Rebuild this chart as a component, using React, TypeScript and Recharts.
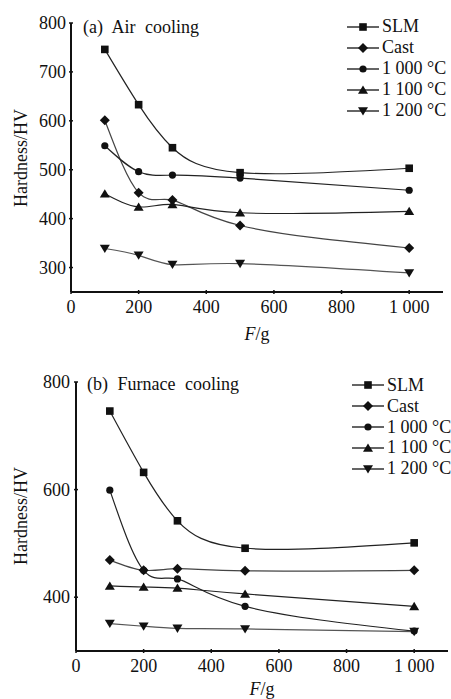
import React from "react";
import { LineChart, Line, XAxis, YAxis, Legend } from "recharts";

// applied load (g) on the x axis
const forces = [100, 200, 300, 500, 1000];
const xTicks = [0, 200, 400, 600, 800, 1000];
const airTicks = [300, 400, 500, 600, 700, 800];
const furnaceTicks = [400, 600, 800];

const seriesNames = ["SLM", "Cast", "1 000 °C", "1 100 °C", "1 200 °C"];

// (a) air cooling
const airSLM = [746, 633, 545, 494, 503];
const airCast = [601, 453, 438, 386, 340];
const air1000 = [549, 496, 489, 483, 458];
const air1100 = [451, 424, 429, 412, 415];
const air1200 = [339, 325, 306, 308, 289];

// (b) furnace cooling
const furSLM = [746, 632, 542, 491, 501];
const furCast = [469, 450, 453, 449, 450];
const fur1000 = [599, 450, 434, 383, 337];
const fur1100 = [421, 419, 417, 406, 383];
const fur1200 = [351, 346, 342, 341, 336];

const keys = ["slm", "cast", "t1000", "t1100", "t1200"];
const markers = ["square", "diamond", "circle", "up", "down"];
const lineColors = ["#222", "#444", "#222", "#222", "#555"];

const buildRows = (cols: number[][]) =>
  forces.map((f, i) => {
    const row: any = { f };
    keys.forEach((k, j) => (row[k] = cols[j][i]));
    return row;
  });

const airData = buildRows([airSLM, airCast, air1000, air1100, air1200]);
const furnaceData = buildRows([furSLM, furCast, fur1000, fur1100, fur1200]);

const FONT = "Liberation Serif";
const INK = "#111";

const fmt = (v: number) => (v >= 1000 ? "1 000" : String(v));

const Marker = ({ kind, cx, cy }: { kind: string; cx: number; cy: number }) => {
  if (kind === "square")
    return <rect x={cx - 3.8} y={cy - 3.8} width={7.6} height={7.6} fill={INK} />;
  if (kind === "diamond")
    return (
      <polygon
        points={`${cx},${cy - 5} ${cx + 5},${cy} ${cx},${cy + 5} ${cx - 5},${cy}`}
        fill={INK}
      />
    );
  if (kind === "circle") return <circle cx={cx} cy={cy} r={3.6} fill={INK} />;
  if (kind === "up")
    return (
      <polygon
        points={`${cx},${cy - 4.5} ${cx + 5},${cy + 3.8} ${cx - 5},${cy + 3.8}`}
        fill={INK}
      />
    );
  return (
    <polygon
      points={`${cx},${cy + 4.5} ${cx + 5},${cy - 3.8} ${cx - 5},${cy - 3.8}`}
      fill={INK}
    />
  );
};

const XTick = ({ x, y, payload }: any) => (
  <g>
    <line x1={x} x2={x} y1={y} y2={y - 4} stroke={INK} strokeWidth={1.5} />
    <text
      x={x}
      y={y + 13}
      textAnchor="middle"
      dominantBaseline="central"
      style={{ fontFamily: FONT, fontSize: 18 }}
      fill={INK}
    >
      {fmt(payload.value)}
    </text>
  </g>
);

const YTick = ({ x, y, payload, gap }: any) => (
  <g>
    <line x1={x} x2={x + 4} y1={y} y2={y} stroke={INK} strokeWidth={1.5} />
    <text
      x={x - gap}
      y={y}
      textAnchor="end"
      dominantBaseline="central"
      style={{ fontFamily: FONT, fontSize: 18 }}
      fill={INK}
    >
      {fmt(payload.value)}
    </text>
  </g>
);

const LegendBox = ({ rowH }: { rowH: number }) => (
  <div style={{ fontFamily: FONT, fontSize: 18, color: INK }}>
    {seriesNames.map((name, i) => (
      <div key={name} style={{ display: "flex", alignItems: "center", height: rowH }}>
        <svg width={32} height={12}>
          <line x1={0} x2={32} y1={6} y2={6} stroke={INK} strokeWidth={1.3} />
          <Marker kind={markers[i]} cx={16} cy={6} />
        </svg>
        <span style={{ marginLeft: 3, whiteSpace: "nowrap" }}>{name}</span>
      </div>
    ))}
  </div>
);

const Panel = ({
  data,
  ticks,
  domain,
  width,
  height,
  margin,
  yWidth,
  xHeight,
  tickGap,
  legendPos,
  rowH,
}: any) => (
  <LineChart width={width} height={height} data={data} margin={margin}>
    <XAxis
      dataKey="f"
      type="number"
      domain={[0, 1100]}
      ticks={xTicks}
      height={xHeight}
      tickSize={0}
      tickLine={false}
      axisLine={{ stroke: INK, strokeWidth: 2 }}
      tick={<XTick />}
    />
    <YAxis
      type="number"
      domain={domain}
      ticks={ticks}
      width={yWidth}
      tickSize={0}
      tickLine={false}
      axisLine={{ stroke: INK, strokeWidth: 2 }}
      tick={<YTick gap={tickGap} />}
    />
    <Legend
      layout="vertical"
      align="center"
      verticalAlign="middle"
      wrapperStyle={{ left: legendPos[0], top: legendPos[1], width: 110 }}
      content={() => <LegendBox rowH={rowH} />}
    />
    {keys.map((k, i) => (
      <Line
        key={k}
        dataKey={k}
        name={seriesNames[i]}
        type="natural"
        stroke={lineColors[i]}
        strokeWidth={1.2}
        isAnimationActive={false}
        dot={(p: any) => <Marker key={`${k}-${p.index}`} kind={markers[i]} cx={p.cx} cy={p.cy} />}
        activeDot={false}
      />
    ))}
  </LineChart>
);

const textStyle: React.CSSProperties = {
  position: "absolute",
  fontFamily: FONT,
  fontSize: 18,
  color: INK,
  whiteSpace: "nowrap",
  lineHeight: 1,
};

const App: React.FC = () => {
  return (
    <div
      style={{
        position: "absolute",
        left: 0,
        top: 0,
        width: 451,
        height: 699,
        background: "#fff",
        overflow: "hidden",
      }}
    >
      <div style={{ position: "absolute", left: 0, top: 0 }}>
        <Panel
          data={airData}
          ticks={airTicks}
          domain={[250, 800]}
          width={451}
          height={320}
          margin={{ top: 23, right: 8, bottom: 0, left: 0 }}
          yWidth={71}
          xHeight={28}
          tickGap={3}
          legendPos={[347, 16]}
          rowH={21}
        />
      </div>
      <div style={{ position: "absolute", left: 0, top: 340 }}>
        <Panel
          data={furnaceData}
          ticks={furnaceTicks}
          domain={[300, 800]}
          width={451}
          height={359}
          margin={{ top: 42, right: 3, bottom: 0, left: 0 }}
          yWidth={76}
          xHeight={48}
          tickGap={4}
          legendPos={[352, 35]}
          rowH={20.8}
        />
      </div>

      <div style={{ ...textStyle, left: 83, top: 18, wordSpacing: 5 }}>(a) Air cooling</div>
      <div style={{ ...textStyle, left: 87, top: 375, wordSpacing: 5 }}>(b) Furnace cooling</div>

      <div
        style={{
          ...textStyle,
          left: 21,
          top: 158,
          transform: "translate(-50%, -50%) rotate(-90deg)",
        }}
      >
        Hardness/HV
      </div>
      <div
        style={{
          ...textStyle,
          left: 21,
          top: 516,
          transform: "translate(-50%, -50%) rotate(-90deg)",
        }}
      >
        Hardness/HV
      </div>

      <div style={{ ...textStyle, left: 257, top: 325, transform: "translateX(-50%)" }}>
        <i>F</i>/g
      </div>
      <div style={{ ...textStyle, left: 262, top: 680, transform: "translateX(-50%)" }}>
        <i>F</i>/g
      </div>
    </div>
  );
};

export default App;
